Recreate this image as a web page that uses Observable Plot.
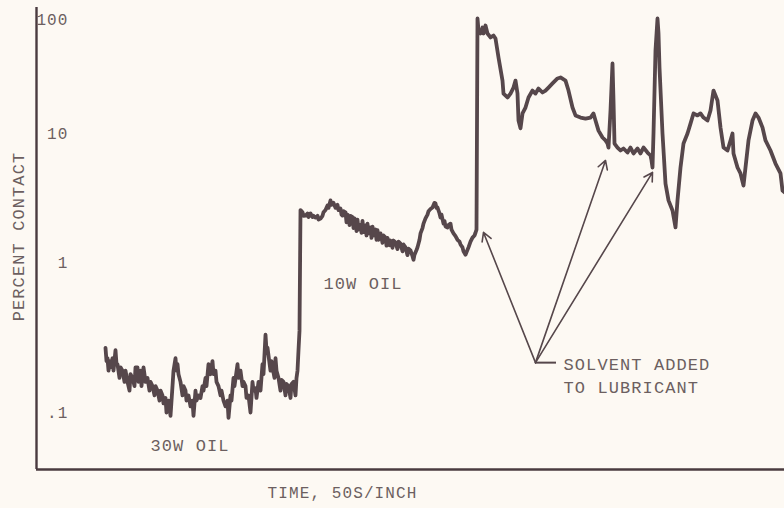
<!DOCTYPE html>
<html>
<head>
<meta charset="utf-8">
<script src="https://cdn.jsdelivr.net/npm/d3@7"></script>
<script src="https://cdn.jsdelivr.net/npm/@observablehq/plot@0.6"></script>
<style>
  html, body { margin: 0; padding: 0; background: #fdf9f3; }
  #chart svg { display: block; background: #fdf9f3; }
</style>
</head>
<body>
<div id="chart"></div>
<script>
// Recorder trace: [time, percent contact]. Time is in chart units (0 = left axis).
const oil30w = [
  [69,0.27],[70,0.22],[71,0.23],[72,0.19],[73,0.22],[74,0.20],[76,0.23],[77,0.19],[79,0.26],[80,0.21],
  [81,0.21],[83,0.17],[84,0.20],[86,0.19],[88,0.16],[89,0.19],[91,0.16],[93,0.14],[94,0.18],[96,0.17],
  [98,0.15],[99,0.20],[101,0.20],[102,0.16],[104,0.19],[105,0.15],[107,0.20],[109,0.16],[111,0.17],[113,0.14],
  [114,0.16],[116,0.15],[118,0.13],[119,0.15],[121,0.14],[123,0.12],[124,0.14],[126,0.13],[127,0.115],[129,0.125],
  [130,0.10],[132,0.12],[134,0.095],[136,0.15],[137,0.19],[139,0.23],[140,0.19],[141,0.21],[142,0.18],[144,0.16],
  [146,0.13],[147,0.15],[149,0.14],[150,0.12],[152,0.13],[154,0.11],[156,0.12],[157,0.095],[159,0.14],[160,0.12],
  [162,0.13],[164,0.125],[166,0.15],[167,0.14],[169,0.17],[170,0.15],[172,0.21],[174,0.18],[176,0.22],[177,0.18],
  [179,0.19],[180,0.16],[182,0.15],[184,0.13],[185,0.14],[187,0.12],[189,0.11],[191,0.12],[192,0.092],[194,0.13],
  [195,0.12],[197,0.17],[198,0.15],[201,0.21],[202,0.17],[204,0.19],[206,0.15],[207,0.16],[209,0.15],[210,0.125],
  [212,0.13],[214,0.10],[216,0.16],[217,0.14],[219,0.145],[220,0.125],[222,0.16],[224,0.14],[226,0.21],[227,0.18],
  [229,0.33],[230,0.26],[231,0.27],[232,0.24],[234,0.19],[235,0.22],[236,0.20],[238,0.17],[239,0.23],[240,0.19],
  [242,0.17],[244,0.14],[245,0.165],[247,0.16],[249,0.13],[250,0.155],[252,0.15],[254,0.125],[255,0.155],[257,0.16],
  [259,0.13],[260,0.17],[261,0.19],[262,0.26],[263,0.35]
];

const oil10w = [
  [264,2.55],[266,2.45],[267,2.30],[269,2.31],[271,2.40],[272,2.25],[274,2.40],[276,2.25],[277,2.30],[279,2.23],
  [281,2.30],[282,2.15],[284,2.19],[286,2.30],[287,2.45],[289,2.55],[291,2.77],[292,2.65],[294,3.03],[295,2.80],
  [297,2.90],[299,2.65],[301,2.80],[302,2.55],[304,2.62],[305,2.35],[306,2.31],[307,2.50],[309,2.45],[310,2.05],
  [311,2.35],[312,2.31],[313,1.95],[314,2.30],[316,2.25],[317,1.85],[318,2.20],[319,2.15],[320,1.75],[321,2.15],
  [322,1.80],[324,1.95],[325,1.70],[326,2.10],[327,1.72],[329,1.94],[330,1.62],[331,2.00],[332,1.68],[334,1.87],
  [335,1.55],[336,1.90],[337,1.62],[339,1.80],[340,1.50],[341,1.78],[342,1.50],[344,1.68],[346,1.42],[347,1.62],
  [349,1.56],[350,1.35],[351,1.55],[353,1.36],[354,1.48],[356,1.30],[357,1.48],[359,1.43],[361,1.27],[362,1.45],
  [364,1.40],[366,1.22],[367,1.38],[369,1.31],[371,1.14],[372,1.28],[374,1.24],[376,1.12],[377,1.05],[378,1.15],
  [380,1.25],[381,1.31],[383,1.50],[384,1.68],[386,1.85],[387,2.00],[389,2.20],[391,2.35],[392,2.50],[394,2.60],
  [396,2.67],[398,2.90],[399,2.87],[400,2.65],[401,2.67],[403,2.40],[404,2.23],[405,2.35],[407,2.00],[408,2.10],
  [409,1.90],[411,1.87],[412,1.95],[414,2.00],[415,1.80],[417,1.68],[419,1.60],[421,1.50],[423,1.45],[424,1.38],
  [426,1.31],[427,1.22],[429,1.15],[430,1.20],[432,1.31],[434,1.45],[436,1.56],[438,1.62],[439,1.70],[440,1.80]
];

const solvent = [
  [441,102],[442,80.1],[444,75.4],[446,85.1],[447,75.4],[449,88.6],[451,75.4],[454,69.6],[457,72.4],[459,68.1],
  [462,46.4],[466,29.1],[467,22.4],[471,20.7],[474,22.4],[477,25.3],[479,29.1],[481,22.4],[482,13.0],[484,11.1],
  [486,15.0],[489,16.9],[492,20.7],[496,23.8],[499,22.4],[502,24.8],[506,22.9],[509,23.8],[512,25.3],[516,27.5],
  [521,30.4],[524,31.0],[529,29.1],[532,23.8],[536,16.9],[539,14.4],[544,13.8],[549,13.5],[554,13.8],[557,15.0],
  [559,13.0],[562,10.6],[566,9.31],[569,8.83],[571,8.36],[572,7.78],[574,15.9],[576,41.1],[577,19.5],[578,8.36],
  [581,7.78],[584,7.38],[587,7.65],[591,7.12],[594,7.78],[597,7.00],[601,7.65],[604,7.00],[607,7.78],[611,7.12],
  [614,6.75],[615,6.18],[616,5.45],[617,10],[619,53.5],[621,102],[622,75.4],[623,37.9],[626,10],[629,4.09],
  [632,3.03],[636,2.53],[639,1.87],[641,3.03],[644,5.45],[647,8.36],[651,10],[654,12.2],[657,15.0],[661,14.4],
  [664,15.0],[667,13.8],[671,13.0],[674,15.9],[677,23.8],[681,19.5],[684,11.3],[687,7.78],[691,7.38],[694,8.83],
  [696,10],[697,7.00],[701,5.45],[704,4.90],[707,3.95],[709,5.45],[712,8.83],[716,13.0],[719,15.0],[722,13.8],
  [726,11.3],[729,8.83],[734,7.38],[739,5.85],[744,4.90],[746,3.61],[748,3.5]
];

// Log-axis decades and their labels
const tickValues = [100, 10, 1, 0.1];
const tickLabels = ["100", "10", "1", ".1"];

// Where solvent was added: callout origin and the three points it marks
const calloutOrigin = [499, 0.215];
const solventPoints = [[447, 1.71], [569, 6.18], [616, 4.99]];

const trace = [...oil30w, ...oil10w, ...solvent].map(([t, pct]) => ({t, pct}));
const ticks = tickValues.map((v, i) => ({v, label: tickLabels[i]}));
const arrows = solventPoints.map(([t, pct]) => ({x1: calloutOrigin[0], y1: calloutOrigin[1], x2: t, y2: pct}));

const ink = "#56474b";
const textInk = "#6c5f60";
const font = "Liberation Mono, DejaVu Sans Mono, monospace";

// Chart-paper decades are not evenly spaced, so the log scale is piecewise.
const yDomain = [0.0417, 0.1, 1, 10, 100, 127];
const yRange = [469, 412, 262, 133, 19, 7];

const chart = Plot.plot({
  width: 784,
  height: 508,
  marginLeft: 36,
  marginRight: 0,
  marginTop: 7,
  marginBottom: 39,
  style: {background: "#fdf9f3", fontFamily: font, fontSize: "17px", color: textInk},
  x: {domain: [0, 748], axis: null},
  y: {type: "log", domain: yDomain, range: yRange, axis: null},
  marks: [
    // axes
    Plot.ruleX([0], {stroke: "#4a3b3f", strokeWidth: 2.4}),
    Plot.ruleY([yDomain[0]], {x1: 0, x2: 748, stroke: "#4a3b3f", strokeWidth: 2.4}),
    // decade labels inside the frame
    Plot.text(ticks, {x: 32, y: "v", text: "label", textAnchor: "end", fill: textInk, fontSize: 16}),
    // recorder trace
    Plot.line(trace, {x: "t", y: "pct", stroke: ink, strokeWidth: 3.8, strokeLinejoin: "round", strokeLinecap: "round"}),
    // callout
    Plot.arrow(arrows, {x1: "x1", y1: "y1", x2: "x2", y2: "y2", stroke: ink, strokeWidth: 1.6, headLength: 9}),
    Plot.ruleY([calloutOrigin[1]], {x1: calloutOrigin[0], x2: 520, stroke: ink, strokeWidth: 2}),
    Plot.text(["SOLVENT ADDED", "TO LUBRICANT"], {x: 527, y: [0.209, 0.147], text: d => d, textAnchor: "start", fill: textInk}),
    // segment labels
    Plot.text(["30W OIL"], {x: 114, y: 0.0603, textAnchor: "start", fill: textInk}),
    Plot.text(["10W OIL"], {x: 287, y: 0.724, textAnchor: "start", fill: textInk}),
    // axis titles
    Plot.text(["TIME, 50S/INCH"], {x: 306, y: 0.0293, fill: textInk, fontSize: 16}),
    Plot.text(["PERCENT CONTACT"], {x: -18, y: 1.59, rotate: -90, fill: textInk})
  ]
});

// typewriter spacing
d3.select(chart).selectAll("text").style("letter-spacing", "1.1px");
document.getElementById("chart").append(chart);
</script>
</body>
</html>
